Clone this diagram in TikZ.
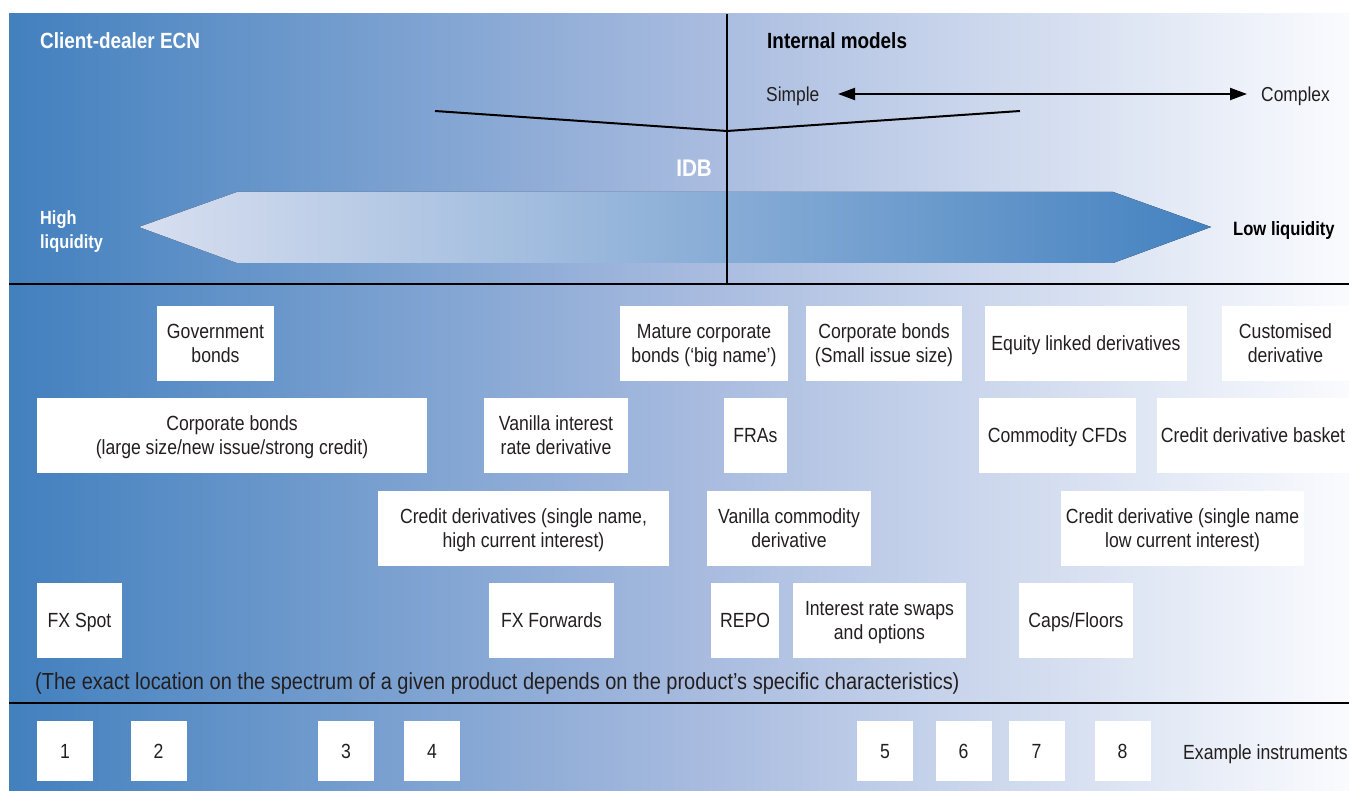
\documentclass[tikz,border=0pt]{standalone}
\usepackage{fontspec}
\setmainfont[FakeStretch=0.86]{Liberation Sans}
\usetikzlibrary{arrows.meta}

\definecolor{bgleft}{RGB}{66,128,190}
\definecolor{bgmid}{RGB}{165,185,222}
\definecolor{bgright}{RGB}{250,251,254}
\definecolor{arrlight}{RGB}{216,223,240}
\definecolor{arrdark}{RGB}{68,130,192}
\definecolor{ink}{RGB}{35,31,32}

% path spans 25bp..75bp of a declared horizontal shading
\pgfdeclarehorizontalshading{bgshade}{100bp}{color(0bp)=(bgleft); color(25bp)=(bgleft); color(50bp)=(bgmid); color(75bp)=(bgright); color(100bp)=(bgright)}
\pgfdeclarehorizontalshading{arrshade}{100bp}{color(0bp)=(arrlight); color(25bp)=(arrlight); color(75bp)=(arrdark); color(100bp)=(arrdark)}

\tikzset{
  box/.style={fill=white, inner sep=0pt, text=ink, align=center, text depth=0pt,
    font=\fontsize{20.5}{24}\selectfont, minimum height=75pt},
  numbox/.style={fill=white, inner sep=0pt, text=ink, text depth=0pt,
    font=\fontsize{20.5}{24}\selectfont, minimum width=56pt, minimum height=60pt},
  rule/.style={line width=2.4pt, black},
  headlabel/.style={inner sep=0pt, font=\bfseries\fontsize{22}{26}\selectfont},
  plainlabel/.style={inner sep=0pt, text=ink, font=\fontsize{20.2}{24}\selectfont},
  notelabel/.style={inner sep=0pt, text=ink, font=\fontsize{23.25}{26}\selectfont},
}

\begin{document}
\begin{tikzpicture}[x=1pt, y=-1pt]
\useasboundingbox (0,0) rectangle (1349,791);

% background band
\fill[shading=bgshade] (9,14) rectangle (1349,791);

% liquidity arrow
\fill[shading=arrshade] (139,227) -- (237,192) -- (1113,192) -- (1211,227) -- (1113,263) -- (237,263) -- cycle;

% dividers
\coordinate (vtop) at (727,14);
\coordinate (vbot) at (727,284);
\coordinate (r1l) at (9,284);
\coordinate (r1r) at (1349,284);
\coordinate (r2l) at (9,703);
\coordinate (r2r) at (1349,703);
\draw[rule] (r1l) -- (r1r);
\draw[rule] (r2l) -- (r2r);
\draw[line width=2pt] (vtop) -- (vbot);

% funnel lines
\coordinate (fl) at (435,111);
\coordinate (fm) at (727,131);
\coordinate (fr) at (1020,111);
\draw[line width=2pt] (fl) -- (fm) -- (fr);

% header labels
\node[headlabel, white, anchor=base west] (ecn) at (40,49) {Client-dealer ECN};
\node[headlabel, black, anchor=base west] (intmod) at (767,49) {Internal models};
\node[headlabel, white, anchor=base east, font=\bfseries\fontsize{24}{28}\selectfont] (idb) at (712,177) {IDB};
\node[headlabel, white, anchor=west, align=left, font=\bfseries\fontsize{19}{24}\selectfont] (high) at (40,232) {High\\liquidity};
\node[headlabel, black, anchor=base west, font=\bfseries\fontsize{19.3}{24}\selectfont] (low) at (1233,236) {Low liquidity};

% complexity scale
\node[plainlabel, anchor=base west] (simple) at (766,102) {Simple};
\node[plainlabel, anchor=base west] (complex) at (1261,102) {Complex};
\coordinate (sa) at (838,94);
\coordinate (sb) at (1247,94);
\draw[line width=2pt, {Triangle[length=17pt,width=12pt]}-{Triangle[length=17pt,width=12pt]}] (sa) -- (sb);

% products, row 1
\node[box, minimum width=117pt] (gov) at (215.5,343.5) {Government\\bonds};
\node[box, minimum width=168pt] (mature) at (704,343.5) {Mature corporate\\bonds (‘big name’)};
\node[box, minimum width=156pt] (corpsmall) at (884,343.5) {Corporate bonds\\(Small issue size)};
\node[box, minimum width=202pt] (equity) at (1086,343.5) {Equity linked derivatives};
\node[box, minimum width=127pt] (custom) at (1285.5,343.5) {Customised\\derivative};

% row 2
\node[box, minimum width=390pt] (corplarge) at (232,435.5) {Corporate bonds\\(large size/new issue/strong credit)};
\node[box, minimum width=144pt] (vanir) at (556,435.5) {Vanilla interest\\rate derivative};
\node[box, minimum width=63pt] (fras) at (755.5,435.5) {FRAs};
\node[box, minimum width=157pt] (cfd) at (1057.5,435.5) {Commodity CFDs};
\node[box, minimum width=192pt] (basket) at (1253,435.5) {Credit derivative basket};

% row 3
\node[box, minimum width=291pt] (credhigh) at (523.5,528.5) {Credit derivatives (single name,\\high current interest)};
\node[box, minimum width=164pt] (vancomm) at (789,528.5) {Vanilla commodity\\derivative};
\node[box, minimum width=243pt] (credlow) at (1182.5,528.5) {Credit derivative (single name\\low current interest)};

% row 4
\node[box, minimum width=85pt] (fxspot) at (79.5,620.5) {FX Spot};
\node[box, minimum width=125pt] (fxfwd) at (551.5,620.5) {FX Forwards};
\node[box, minimum width=68pt] (repo) at (745,620.5) {REPO};
\node[box, minimum width=173pt] (irs) at (879.5,620.5) {Interest rate swaps\\and options};
\node[box, minimum width=114pt] (caps) at (1076,620.5) {Caps/Floors};

% note
\node[notelabel, anchor=base west] (note) at (35,689) {(The exact location on the spectrum of a given product depends on the product’s specific characteristics)};

% example instruments
\node[numbox] (n1) at (65,751) {1};
\node[numbox] (n2) at (158.5,751) {2};
\node[numbox] (n3) at (346,751) {3};
\node[numbox] (n4) at (432,751) {4};
\node[numbox] (n5) at (885,751) {5};
\node[numbox] (n6) at (963.5,751) {6};
\node[numbox] (n7) at (1036.5,751) {7};
\node[numbox] (n8) at (1122.5,751) {8};
\node[inner sep=0pt, text=ink, anchor=base west, font=\fontsize{20.5}{24}\selectfont] (example) at (1183,759) {Example instruments};
\end{tikzpicture}
\end{document}
